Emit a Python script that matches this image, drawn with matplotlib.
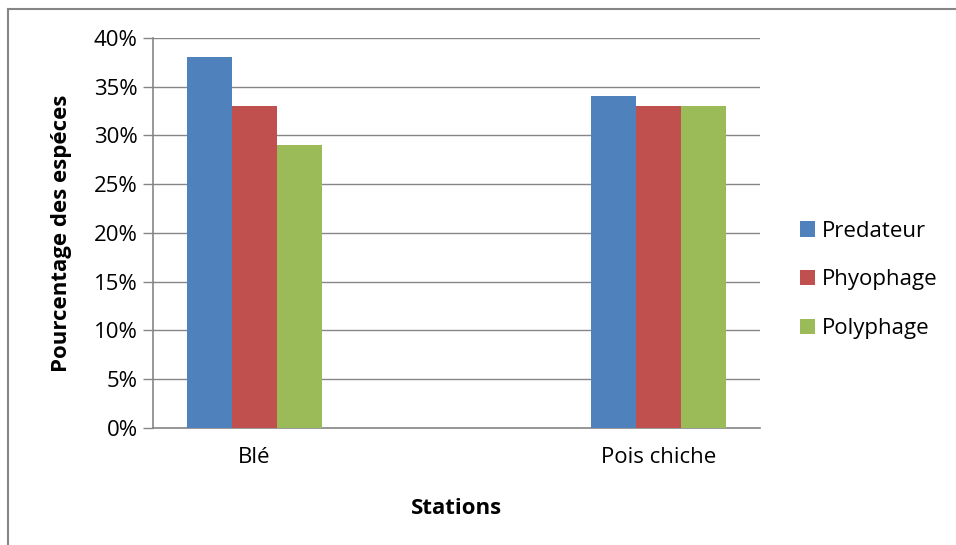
import numpy as np
import matplotlib.pyplot as plt
from matplotlib.lines import Line2D

plt.rcParams['font.family'] = ['Open Sans', 'DejaVu Sans']

# third slot is an empty category between the two stations
stations = ['Blé', '', 'Pois chiche']
series = ['Predateur', 'Phyophage', 'Polyphage']
predateur = [0.38, np.nan, 0.34]
phyophage = [0.33, np.nan, 0.33]
polyphage = [0.29, np.nan, 0.33]
colors = ['#4F81BD', '#C0504D', '#9BBB59']
yticks = [0, 0.05, 0.10, 0.15, 0.20, 0.25, 0.30, 0.35, 0.40]

fs = 16

fig = plt.figure(figsize=(9.56, 5.45), dpi=100)
ax = fig.add_axes([0.160, 0.2147, 0.635, 0.7156])

x = np.arange(len(stations))
w = 2 / 9
for i, (vals, name, c) in enumerate(zip([predateur, phyophage, polyphage], series, colors)):
    ax.bar(x + (i - 1) * w, vals, width=w, color=c, label=name, zorder=3)

ax.set_xlim(-0.5, 2.5)
ax.set_ylim(0, 0.40)
ax.set_yticks(yticks)
ax.set_yticklabels(['%d%%' % round(v * 100) for v in yticks])
ax.set_xticks([0, 2])
ax.set_xticklabels([stations[0], stations[2]])

ax.grid(axis='y', color='#868686', linewidth=1, zorder=0)
for s in ['top', 'right']:
    ax.spines[s].set_visible(False)
for s in ['left', 'bottom']:
    ax.spines[s].set_color('#868686')
    ax.spines[s].set_linewidth(1.2)
ax.tick_params(axis='y', length=7, width=1, color='#868686', labelsize=fs, pad=4)
ax.tick_params(axis='x', length=0, labelsize=fs, pad=14)

ax.set_ylabel('Pourcentage des espéces', fontsize=fs, fontweight='bold', labelpad=16)
ax.set_xlabel('Stations', fontsize=fs, fontweight='bold', labelpad=21)

fig.legend(*ax.get_legend_handles_labels(), loc='center left',
           bbox_to_anchor=(800 / 956, 1 - 280 / 545), bbox_transform=fig.transFigure,
           frameon=False, fontsize=fs, handlelength=0.68, handleheight=0.68,
           handletextpad=0.3, labelspacing=1.25, borderpad=0, borderaxespad=0)

# chart border (top and left edges)
fig.add_artist(Line2D([8 / 956, 8 / 956], [0, 1 - 8.5 / 545], transform=fig.transFigure,
                      color='#868686', linewidth=1.5))
fig.add_artist(Line2D([8 / 956, 1], [1 - 8.5 / 545, 1 - 8.5 / 545], transform=fig.transFigure,
                      color='#868686', linewidth=1.5))

fig.savefig('out.png', dpi=100)
